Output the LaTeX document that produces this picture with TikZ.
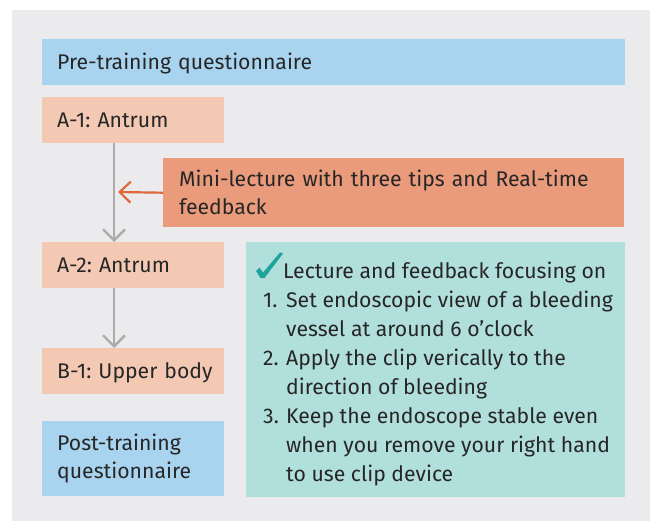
\documentclass[tikz,border=0pt]{standalone}
\usepackage{fontspec}
\setmainfont{Fira Sans}
\usetikzlibrary{arrows.meta}
\definecolor{bgc}{HTML}{EBEBED}
\definecolor{blueq}{HTML}{A9D4EF}
\definecolor{peach}{HTML}{F4C9B4}
\definecolor{orbox}{HTML}{EA9B7B}
\definecolor{tealbox}{HTML}{B1DFDC}
\definecolor{txt}{HTML}{262626}
\definecolor{grayarr}{HTML}{ABABAB}
\definecolor{orarr}{HTML}{E0673C}
\definecolor{checkc}{HTML}{1EA39D}
\tikzset{
  box/.style={anchor=north west, inner ysep=0pt, inner xsep=15pt, align=left, text=txt},
  grayline/.style={draw=grayarr, line width=2.6pt, -{Straight Barb[length=11pt,width=22pt,line width=2.4pt]}},
  orline/.style={draw=orarr, line width=2.2pt, -{Straight Barb[length=11pt,width=21pt,line width=2.2pt]}},
}
\newcommand{\numitem}[1]{\makebox[29pt][l]{\hspace{6pt}#1}}
\newcommand{\oneline}[1]{\makebox[0pt][l]{#1}}
\frenchspacing
\begin{document}
\begin{tikzpicture}[x=1pt,y=-1pt,font=\fontsize{21.2}{29}\selectfont]
\useasboundingbox (0,0) rectangle (650,521);
\fill[bgc] (12,10) rectangle (650,521);
\node[box, fill=blueq, text width=553pt, minimum height=46pt, text height=15pt, text depth=0pt] (pre) at (42,39) {Pre-training questionnaire};
\node[box, fill=peach, text width=152pt, minimum height=46pt, text height=15pt, text depth=0pt] (a1) at (42,97) {\oneline{A-1: Antrum}};
\node[box, fill=orbox, inner xsep=16pt, text width=429pt, minimum height=69pt, font=\fontsize{21.2}{28}\selectfont] (mini) at (163,158) {Mini-lecture with three tips and Real-time\\feedback};
\node[box, fill=peach, text width=152pt, minimum height=46pt, text height=15pt, text depth=0pt] (a2) at (42,242) {\oneline{A-2: Antrum}};
\node[box, fill=peach, text width=152pt, minimum height=46pt, text height=15pt, text depth=0pt] (b1) at (42,348) {\oneline{B-1: Upper body}};
\node[box, fill=blueq, text width=152pt, minimum height=75pt, font=\fontsize{21.2}{28}\selectfont] (post) at (42,421) {Post-training\\questionnaire};
\node[anchor=north west, fill=tealbox, minimum width=379pt, minimum height=255pt, inner sep=0pt] (teal) at (246,242) {};
\node[anchor=north west, inner sep=0pt, align=left, text=txt] (tealtext) at ([xshift=11pt,yshift=-20pt]teal.north west) {%
\makebox[26pt][l]{}Lecture and feedback focusing on\\
\numitem{1.}Set endoscopic view of a bleeding\\
\numitem{}vessel at around 6 o’clock\\
\numitem{2.}Apply the clip verically to the\\
\numitem{}direction of bleeding\\
\numitem{3.}Keep the endoscope stable even\\
\numitem{}when you remove your right hand\\
\numitem{}to use clip device};
\fill[checkc] (256,271) -- (259.5,267.5) -- (263,272.5) -- (280,252.5) -- (283,253.5) -- (264.5,278) -- (260.5,278) -- cycle;
\coordinate (otip) at (118,192);
\draw[grayline] ([xshift=72pt]a1.south west) -- ([xshift=72pt]a2.north west);
\draw[grayline] ([xshift=72pt]a2.south west) -- ([xshift=72pt]b1.north west);
\draw[orline] (mini.west) -- (otip);
\end{tikzpicture}
\end{document}
